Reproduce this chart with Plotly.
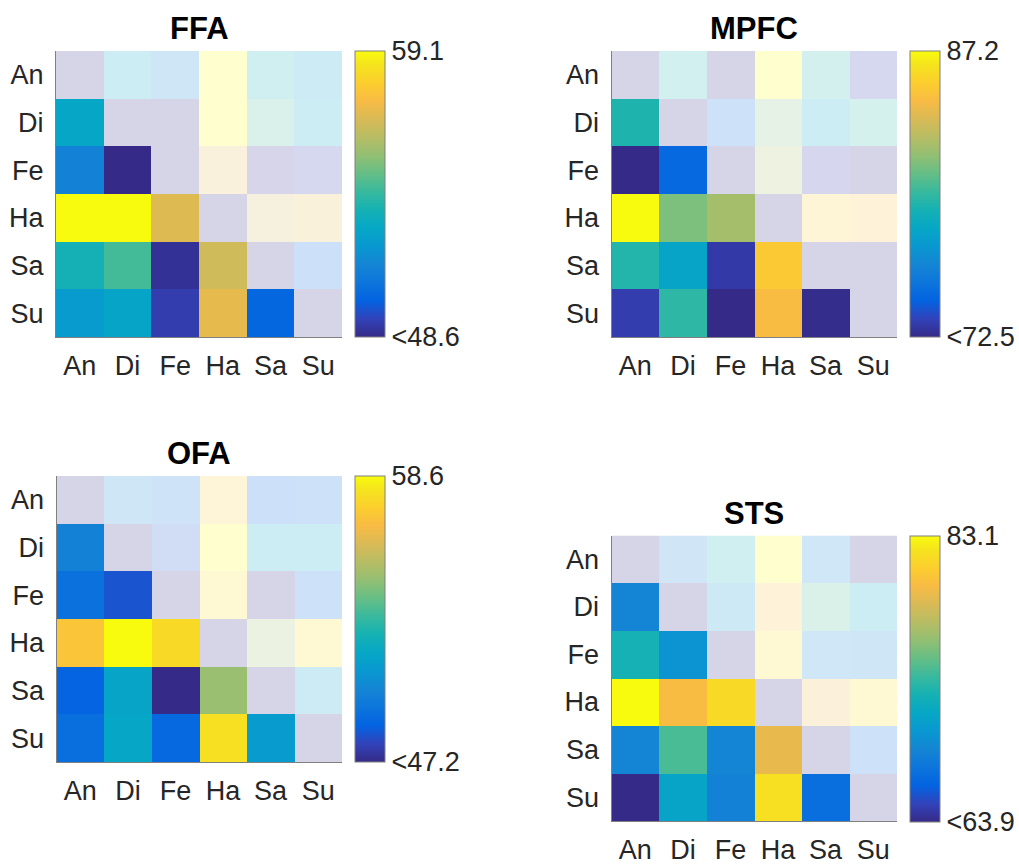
import plotly.graph_objects as go

# Emotion categories (rows and columns of each matrix)
EMOTIONS = ["An", "Di", "Fe", "Ha", "Sa", "Su"]

# Lower-triangle values per region, row by row:
# (Di,An) (Fe,An) (Fe,Di) (Ha,An) (Ha,Di) (Ha,Fe) (Sa,An..Ha) (Su,An..Sa)
FFA_LOWER = [52.6, 51.1, 48.3, 59.1, 59.1, 56.7, 53.2, 54.1, 48.8, 56.4,
             52.1, 52.5, 49.1, 56.9, 50.1]
MPFC_LOWER = [79.3, 72.3, 74.7, 87.2, 81.4, 82.3, 79.4, 77.9, 73.1, 85.3,
              73.2, 79.7, 72.3, 84.7, 72.6]
OFA_LOWER = [49.9, 49.2, 48.3, 57.0, 58.6, 57.7, 48.7, 51.4, 47.0, 54.6,
             49.1, 51.5, 48.9, 57.9, 51.0]
STS_LOWER = [68.7, 72.4, 69.7, 83.1, 79.8, 81.6, 68.8, 74.1, 68.8, 79.1,
             63.7, 71.0, 68.5, 81.9, 67.1]

# Colour limits of each panel
FFA_RANGE = [48.6, 59.1]
MPFC_RANGE = [72.5, 87.2]
OFA_RANGE = [47.2, 58.6]
STS_RANGE = [63.9, 83.1]

# MATLAB parula colormap (subsampled)
PARULA = [
    (0.2081, 0.1663, 0.5292), (0.1959, 0.2645, 0.7279), (0.0117, 0.3875, 0.8820),
    (0.0498, 0.4586, 0.8641), (0.0793, 0.5200, 0.8312), (0.0343, 0.5966, 0.8199),
    (0.0228, 0.6535, 0.7768), (0.0843, 0.6928, 0.7062), (0.2178, 0.7250, 0.6193),
    (0.3953, 0.7459, 0.5244), (0.5709, 0.7485, 0.4494), (0.7184, 0.7411, 0.3905),
    (0.8507, 0.7299, 0.3360), (0.9739, 0.7314, 0.2666), (0.9880, 0.8066, 0.1794),
    (0.9589, 0.8949, 0.1132), (0.9763, 0.9831, 0.0538),
]
PARULA_IDX = [1, 5, 9, 13, 17, 21, 25, 29, 33, 37, 41, 45, 49, 53, 57, 61, 64]
colorscale = [[(i - 1) / 63, "rgb(%d,%d,%d)" % tuple(round(c * 255) for c in rgb)]
              for i, rgb in zip(PARULA_IDX, PARULA)]

W, H = 1019, 864
FONT = "Liberation Sans, Arial, Helvetica, sans-serif"
TEXT = "#262626"
TICK_SIZE = 27
TITLE_SIZE = 31


def split(lower, floor):
    """Return (full lower triangle, faded upper triangle incl. diagonal)."""
    n = len(EMOTIONS)
    full = [[None] * n for _ in range(n)]
    faded = [[None] * n for _ in range(n)]
    k = 0
    for r in range(1, n):
        for c in range(r):
            full[r][c] = lower[k]
            faded[c][r] = lower[k]
            k += 1
    for d in range(n):
        faded[d][d] = floor
    return full, faded


panels = [
    # name, values, range, (x0,x1,y0,y1) in pixels
    ("FFA", FFA_LOWER, FFA_RANGE, (56, 342, 51, 337)),
    ("MPFC", MPFC_LOWER, MPFC_RANGE, (611.5, 897, 51, 337)),
    ("OFA", OFA_LOWER, OFA_RANGE, (56.5, 342, 476, 762)),
    ("STS", STS_LOWER, STS_RANGE, (611.5, 897, 535.5, 821)),
]

fig = go.Figure()
layout = dict(
    width=W, height=H, margin=dict(l=0, r=0, t=0, b=0),
    paper_bgcolor="white", plot_bgcolor="white",
    font=dict(family=FONT, color=TEXT), showlegend=False,
)
annotations = []

for i, (name, lower, rng, (x0, x1, y0, y1)) in enumerate(panels, start=1):
    sfx = "" if i == 1 else str(i)
    cax = "coloraxis" + sfx
    full, faded = split(lower, rng[0])
    for z, op in ((faded, 0.2), (full, 1.0)):
        fig.add_trace(go.Heatmap(
            z=z, x=EMOTIONS, y=EMOTIONS, coloraxis=cax, opacity=op,
            xaxis="x" + sfx, yaxis="y" + sfx, hoverongaps=False,
        ))
    layout["xaxis" + sfx] = dict(
        domain=[x0 / W, x1 / W], anchor="y" + sfx, range=[-0.5, 5.5],
        showgrid=False, zeroline=False, showline=True, linecolor="#808080",
        linewidth=1, ticks="", tickfont=dict(size=TICK_SIZE, color=TEXT, family=FONT),
        ticklabelstandoff=5, fixedrange=True,
    )
    layout["yaxis" + sfx] = dict(
        domain=[1 - y1 / H, 1 - y0 / H], anchor="x" + sfx, range=[5.5, -0.5],
        showgrid=False, zeroline=False, showline=True, linecolor="#808080",
        linewidth=1, ticks="", tickfont=dict(size=TICK_SIZE, color=TEXT, family=FONT),
        ticklabelstandoff=6, fixedrange=True,
    )
    layout[cax] = dict(
        cmin=rng[0], cmax=rng[1], colorscale=colorscale,
        colorbar=dict(
            x=(x1 + 13) / W, xanchor="left", xpad=0,
            y=1 - y0 / H, yanchor="top", ypad=0,
            len=y1 - y0, lenmode="pixels",
            thickness=30, thicknessmode="pixels",
            outlinecolor="#808080", outlinewidth=1,
            tickvals=rng, ticktext=["<%.1f" % rng[0], "%.1f" % rng[1]],
            ticks="", ticklen=0,
            tickfont=dict(size=TICK_SIZE, color=TEXT, family=FONT),
        ),
    )
    annotations.append(dict(
        text="<b>%s</b>" % name, x=(x0 + x1) / 2 / W, y=1 - (y0 - 22) / H,
        xref="paper", yref="paper", xanchor="center", yanchor="middle",
        showarrow=False, font=dict(size=TITLE_SIZE, color="black", family=FONT),
    ))

layout["annotations"] = annotations
fig.update_layout(**layout)
fig.write_html("out.html")
